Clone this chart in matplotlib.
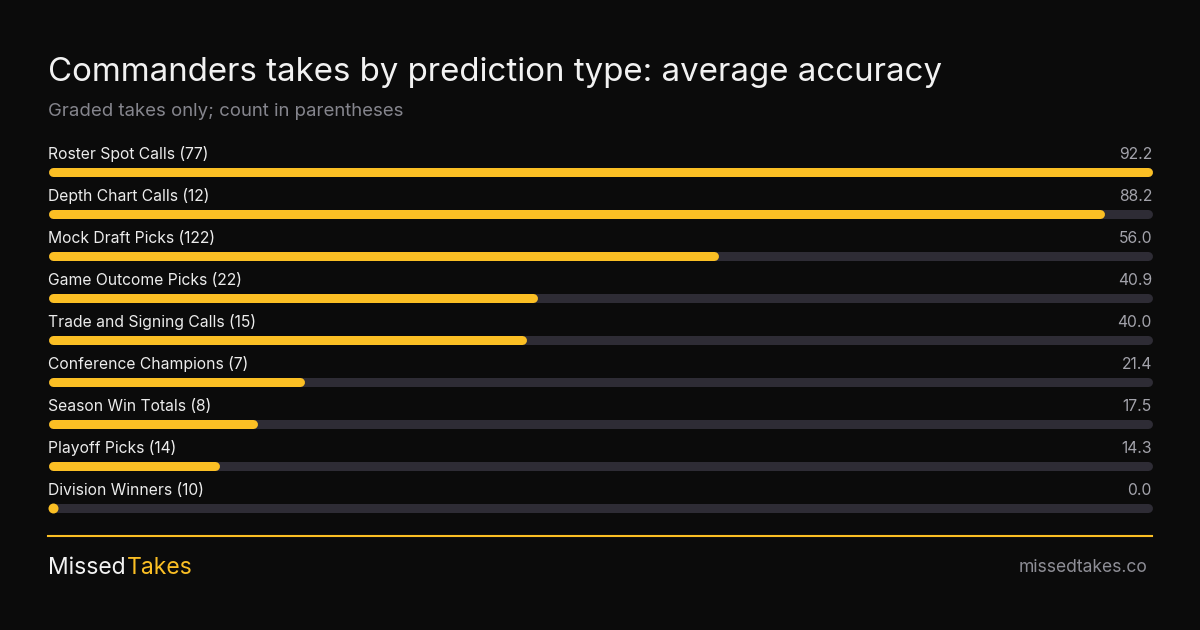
import matplotlib
matplotlib.use("Agg")
import matplotlib.pyplot as plt
import matplotlib.transforms as mtransforms

categories = ["Roster Spot Calls", "Depth Chart Calls", "Mock Draft Picks",
              "Game Outcome Picks", "Trade and Signing Calls", "Conference Champions",
              "Season Win Totals", "Playoff Picks", "Division Winners"]
counts = [77, 12, 122, 22, 15, 7, 8, 14, 10]
accuracy = [92.2, 88.2, 56.0, 40.9, 40.0, 21.4, 17.5, 14.3, 0.0]

BG = "#0b0b0b"
YELLOW = "#fbbf24"
TRACK = "#2e2c35"
W, H = 1200, 630

plt.rcParams['font.family'] = ['Inter', 'DejaVu Sans']

fig = plt.figure(figsize=(12, 6.3), dpi=100, facecolor=BG)

def fx(px):
    return px / W

def fy(py):
    return 1 - py / H

# bar area: rows 42px apart, first bar centre at y=172px, track from 48 to 1152px
top_px, bot_px = 172 - 42 * 1.0, 172 + 42 * 8.5
ax = fig.add_axes([fx(48), fy(bot_px), fx(1152 - 48), (bot_px - top_px) / H])
ax.set_facecolor("none")
ax.axis("off")
maxv = max(accuracy)
ax.set_xlim(0, maxv)
ax.set_ylim(8.5, -1.0)

lw = 9 * 72 / 100
c = 4.5 / 1104 * maxv  # half the cap width in data units
lab_tr = mtransforms.blended_transform_factory(fig.transFigure, ax.transData)
for i, (cat, n, v) in enumerate(zip(categories, counts, accuracy)):
    ax.plot([c, maxv - c], [i, i], color=TRACK, lw=lw, solid_capstyle="round", clip_on=False)
    if v - c > c:
        ax.plot([c, v - c], [i, i], color=YELLOW, lw=lw, solid_capstyle="round", clip_on=False)
    else:
        ax.plot([c * 1.1], [i], "o", color=YELLOW, ms=10 * 72 / 100, mew=0, clip_on=False)
    ax.text(fx(48), i - 18 / 42, f"{cat} ({n})", transform=lab_tr, color="#ececec",
            fontsize=11.3, va="center", ha="left")
    ax.text(fx(1152), i - 18 / 42, f"{v:.1f}", transform=lab_tr, color="#a3a3ab",
            fontsize=11.3, va="center", ha="right")

fig.text(fx(48), fy(73), "Commanders takes by prediction type: average accuracy",
         color="#f2f2f2", fontsize=23.8, va="center", ha="left")
fig.text(fx(48), fy(111), "Graded takes only; count in parentheses",
         color="#85858d", fontsize=13.4, va="center", ha="left")

fig.add_artist(plt.Line2D([fx(48), fx(1152)], [fy(536), fy(536)], color=YELLOW, lw=1.5))

t1 = fig.text(fx(48), fy(568), "Missed", color="#f2f2f2", fontsize=16.5, va="center", ha="left")
fig.canvas.draw()
bb = t1.get_window_extent()
fig.text(bb.x1 / W + fx(1), fy(568), "Takes", color=YELLOW, fontsize=16.5, va="center", ha="left")
fig.text(fx(1148), fy(568), "missedtakes.co", color="#8e8e96", fontsize=12.6, va="center", ha="right")

fig.savefig("out.png", dpi=100, facecolor=BG)
